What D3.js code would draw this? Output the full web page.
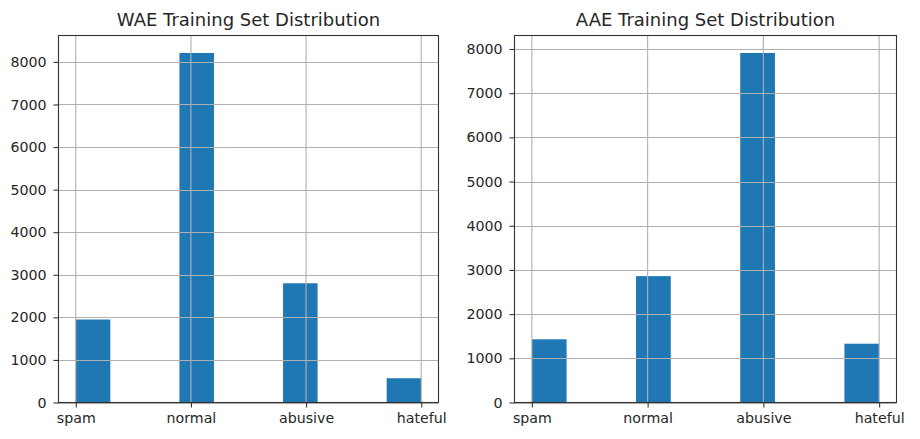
<!DOCTYPE html>
<html><head><meta charset="utf-8">
<script src="https://cdn.jsdelivr.net/npm/d3@7"></script>
<style>body{margin:0;background:#fff}svg{display:block}text{font-family:"DejaVu Sans",sans-serif}</style>
</head><body>
<svg id="c" width="920" height="439"></svg>
<script>
const categories = ["spam", "normal", "abusive", "hateful"];
const waeCounts = [1950, 8210, 2800, 570];
const aaeCounts = [1430, 2860, 7910, 1330];
const titles = ["WAE Training Set Distribution", "AAE Training Set Distribution"];
const yTicks = [0, 1000, 2000, 3000, 4000, 5000, 6000, 7000, 8000];

const svg = d3.select("#c");
const panels = [
  {title: titles[0], values: waeCounts, left: 58.5, right: 438.5},
  {title: titles[1], values: aaeCounts, left: 514.5, right: 896.5}
];
const plotTop = 35.5, plotBottom = 402.5;
const nBins = 10, binW = (categories.length - 1) / nBins;

panels.forEach(p => {
  const x = d3.scaleLinear().domain([-0.15, 3.15]).range([p.left, p.right]);
  const y = d3.scaleLinear().domain([0, d3.max(p.values) * 1.05]).range([plotBottom, plotTop]);
  const g = svg.append("g");
  const bars = p.values.map((v, i) => {
    const b = Math.min(nBins - 1, Math.floor(i / binW + 1e-9));
    return {x0: b * binW, x1: (b + 1) * binW, v};
  });
  g.selectAll("rect.bar").data(bars).join("rect")
    .attr("x", d => x(d.x0)).attr("width", d => x(d.x1) - x(d.x0))
    .attr("y", d => y(d.v)).attr("height", d => y(0) - y(d.v))
    .attr("fill", "#1f77b4");
  g.selectAll("line.gy").data(yTicks).join("line")
    .attr("x1", p.left).attr("x2", p.right)
    .attr("y1", d => Math.round(y(d)) + 0.5).attr("y2", d => Math.round(y(d)) + 0.5)
    .attr("stroke", "#b0b0b0").attr("stroke-width", 1.1);
  g.selectAll("line.gx").data(categories).join("line")
    .attr("x1", (d, i) => x(i)).attr("x2", (d, i) => x(i))
    .attr("y1", plotTop).attr("y2", plotBottom)
    .attr("stroke", "#b0b0b0").attr("stroke-width", 1.1);
  const xa = d3.axisBottom(x).tickValues(d3.range(categories.length))
    .tickFormat(i => categories[i]).tickSize(5).tickPadding(5.5);
  const ga = g.append("g").attr("transform", `translate(0,${plotBottom})`).call(xa);
  const ya = d3.axisLeft(y).tickValues(yTicks).tickFormat(d3.format("d")).tickSize(5).tickPadding(7);
  const gy = g.append("g").attr("transform", `translate(${p.left},0)`).call(ya);
  [ga, gy].forEach(a => {
    a.select(".domain").remove();
    a.selectAll("line").attr("stroke", "#333").attr("stroke-width", 1.1);
    a.selectAll("text").attr("font-size", 14.2).attr("fill", "#262626")
      .attr("font-family", "DejaVu Sans, sans-serif");
  });
  g.append("rect").attr("x", p.left).attr("y", plotTop)
    .attr("width", p.right - p.left).attr("height", plotBottom - plotTop)
    .attr("fill", "none").attr("stroke", "#333").attr("stroke-width", 1.1);
  g.append("text").attr("x", (p.left + p.right) / 2).attr("y", 25.5)
    .attr("text-anchor", "middle").attr("font-size", 18).attr("fill", "#262626")
    .text(p.title);
});
</script>
</body></html>
